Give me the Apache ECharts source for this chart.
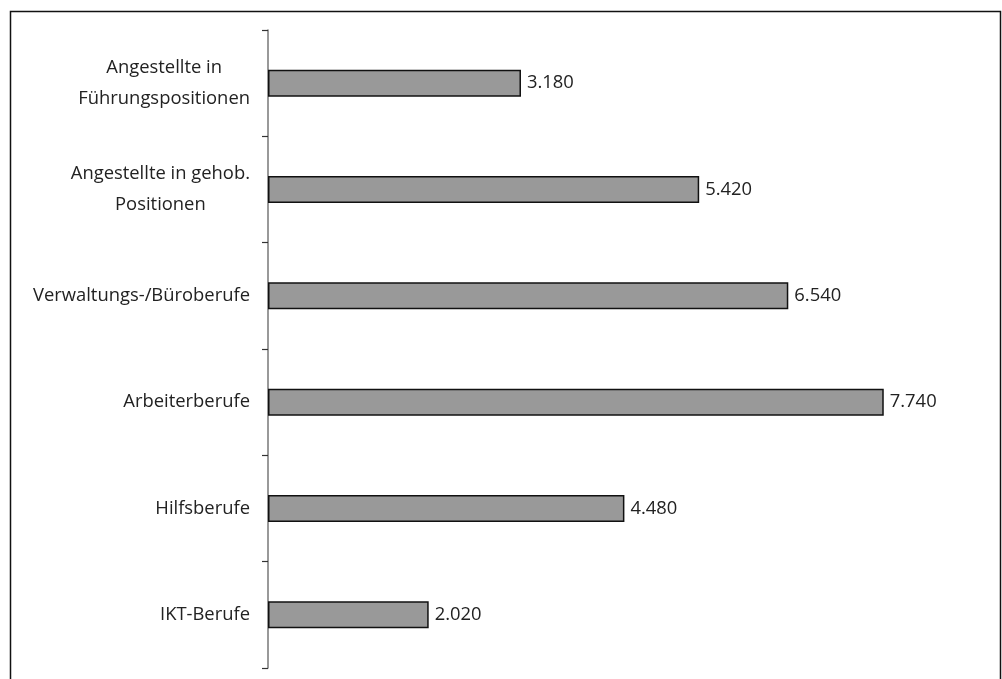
<!DOCTYPE html>
<html>
<head>
<meta charset="utf-8">
<script src="https://cdn.jsdelivr.net/npm/echarts@6/dist/echarts.min.js"></script>
<style>
  html, body { margin: 0; padding: 0; background: #fff; }
  #chart { width: 1002px; height: 679px; }
</style>
</head>
<body>
<div id="chart"></div>
<script>
// Berufsgruppen (top to bottom) and their counts
const categories = [
  'Angestellte in\nFührungspositionen',
  'Angestellte in gehob.\nPositionen',
  'Verwaltungs-/Büroberufe',
  'Arbeiterberufe',
  'Hilfsberufe',
  'IKT-Berufe'
];
const values = [3180, 5420, 6540, 7740, 4480, 2020];

const fmt = v => v.toLocaleString('de-DE');
const FONT = '"Open Sans", sans-serif';
const FONT_SIZE = 18.4;

const chart = echarts.init(document.getElementById('chart'), null, { renderer: 'canvas' });
chart.setOption({
  animation: false,
  backgroundColor: '#ffffff',
  graphic: [{
    type: 'rect',
    shape: { x: 10.5, y: 11.5, width: 990, height: 700 },
    style: { fill: 'none', stroke: '#111', lineWidth: 1.5 },
    silent: true,
    z: 0
  }],
  grid: { left: 268, right: 18, top: 30, bottom: 11, containLabel: false },
  xAxis: {
    type: 'value',
    min: 0,
    max: 9000,
    show: false
  },
  yAxis: {
    type: 'category',
    data: categories,
    inverse: true,
    axisLine: { show: true, lineStyle: { color: '#777', width: 1.5 } },
    axisTick: { show: true, length: 6, inside: false, lineStyle: { color: '#333', width: 1.2 } },
    axisLabel: {
      margin: 18,
      align: 'right',
      formatter: v => v.split('\n').map(l => '{c|' + l + '}').join('\n'),
      rich: {
        c: {
          align: 'center',
          fontFamily: FONT,
          fontSize: FONT_SIZE,
          color: '#222',
          lineHeight: 31
        }
      }
    },
    splitLine: { show: false }
  },
  series: [{
    type: 'bar',
    data: values,
    barWidth: 27,
    itemStyle: { color: '#999999', borderColor: '#111', borderWidth: 1.5 },
    label: {
      show: true,
      position: 'right',
      distance: 6,
      fontFamily: FONT,
      fontSize: FONT_SIZE,
      color: '#222',
      formatter: p => fmt(p.value)
    }
  }]
});
</script>
</body>
</html>
